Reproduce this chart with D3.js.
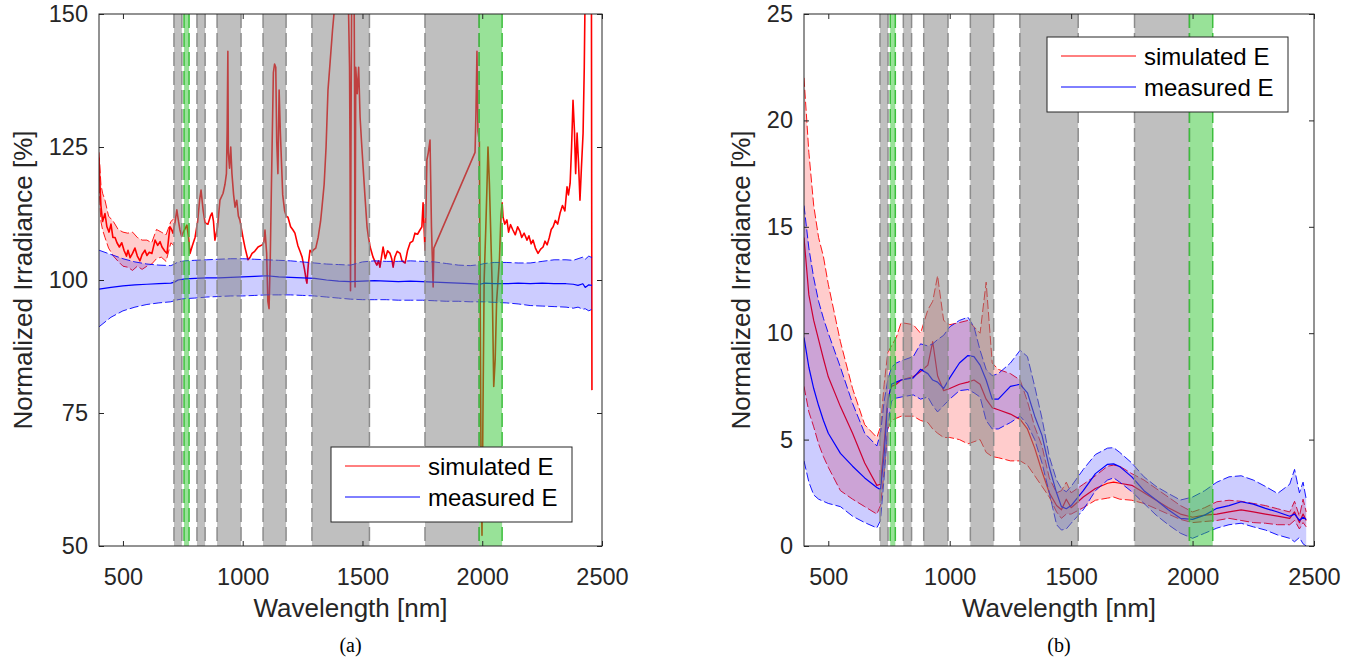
<!DOCTYPE html>
<html>
<head>
<meta charset="utf-8">
<script src="https://cdn.jsdelivr.net/npm/d3@7"></script>
<style>
  body { margin: 0; background: #fff; }
  svg { display: block; font-family: "Liberation Sans", Arial, Helvetica, sans-serif; }
</style>
</head>
<body>
<svg id="chart" width="1354" height="661"></svg>
<script>
// ---- shared ----
const xTicks = [500, 1000, 1500, 2000, 2500];
const yTicksA = [50, 75, 100, 125, 150];
const yTicksB = [0, 5, 10, 15, 20, 25];
const greyBands = [[713, 746], [809, 843], [893, 993], [1085, 1181], [1289, 1529], [1761, 1987]];
const greenBands = [[755, 776], [1987, 2083]];
const legendLabels = ["simulated E", "measured E"];

// ---- panel (a): simulated E ----
const simAWl = [400, 404, 408, 415, 425, 433, 442, 450, 458, 467, 475, 485, 495, 505, 515, 521, 530, 540, 550, 560,
  571, 580, 592, 600, 610, 621, 634, 645, 655, 663, 675, 684, 696, 702, 709, 718, 725, 732, 738, 745,
  750, 758, 767, 774, 780, 790, 801, 812, 820, 826, 835, 843, 855, 865, 872, 878, 884, 895, 905, 918,
  926, 932, 935, 938, 940, 945, 950, 955, 962, 968, 975, 982, 988, 995, 1001, 1010, 1022, 1030, 1039, 1050,
  1064, 1081, 1088, 1093, 1100, 1105, 1110, 1115, 1120, 1128, 1133, 1138, 1142, 1147, 1152, 1157, 1162, 1167, 1175, 1182,
  1189, 1200, 1210, 1218, 1230, 1240, 1248, 1258, 1265, 1268, 1274, 1281, 1288, 1294, 1305, 1315, 1325, 1331, 1340, 1348,
  1356, 1365, 1375, 1385, 1400, 1420, 1435, 1442, 1446, 1448, 1450, 1452, 1455, 1460, 1465, 1467, 1469, 1472, 1478, 1484,
  1490, 1496, 1503, 1510, 1519, 1525, 1532, 1544, 1552, 1560, 1567, 1573, 1580, 1586, 1595, 1605, 1615, 1622, 1628, 1635,
  1645, 1657, 1665, 1678, 1688, 1699, 1710, 1719, 1730, 1740, 1748, 1753, 1757, 1761, 1765, 1769, 1775, 1782, 1788, 1795,
  1798, 1970, 1974, 1978, 1982, 1988, 1991, 1995, 1999, 2003, 2008, 2015, 2020, 2024, 2030, 2036, 2042, 2048, 2054, 2060,
  2066, 2072, 2078, 2083, 2087, 2094, 2103, 2110, 2118, 2128, 2138, 2148, 2157, 2165, 2175, 2187, 2195, 2204, 2212, 2222,
  2233, 2244, 2254, 2262, 2271, 2280, 2288, 2296, 2305, 2315, 2325, 2335, 2345, 2354, 2360, 2367, 2373, 2379, 2385, 2390,
  2396, 2402, 2408, 2414, 2421, 2426, 2429, 2437, 2445, 2452, 2456, 2458];
const simAMean = [123, 118, 114, 111, 112.5, 110, 109, 110.5, 108, 108, 107, 106.2, 107, 105.5, 104.5, 105.6, 104.2, 105, 106, 104.5,
  103.6, 104.8, 105.6, 104.6, 105.2, 105, 107.5, 106.5, 107.2, 106.2, 105.4, 105, 110, 109.6, 108.8, 111, 113.2, 111, 109.4, 108.2,
  108.8, 109.5, 110.3, 108, 105, 106.5, 108, 111, 115, 116.9, 113, 110.7, 110.5, 112, 112.6, 111, 107.5, 110, 115, 116.3,
  118, 120, 128, 143, 124, 121, 125, 120, 116, 113.7, 115, 112, 111.3, 109.5, 108, 106, 103.8, 104.2, 105, 105.4,
  106.2, 106.6, 107, 109.4, 105, 96, 94.6, 104, 118, 139, 140.6, 140, 126, 120, 135.7, 128, 122, 116, 113, 112,
  111.8, 110, 109.4, 108.8, 106.5, 105.3, 104.3, 102, 100, 99.4, 103, 105.6, 105.2, 105.6, 106, 108, 111, 113.7, 118, 125,
  135.7, 141, 147, 152, 160, 170, 165, 150, 140, 124.8, 98, 126, 155, 160, 155, 135, 98.7, 140, 135, 140,
  130.6, 126, 121, 116, 110, 108, 106.2, 104.3, 103.5, 102.8, 103.6, 102.4, 104.5, 106.2, 104, 105.5, 105, 104, 102.4, 104.3,
  105.4, 105, 103.6, 103.2, 105.5, 107, 107.3, 108.8, 108.6, 109.4, 110, 114.5, 110, 105.6, 113, 122.6, 124, 126.3, 110, 98.7,
  106, 124, 132, 143, 128, 126, 100, 65, 52, 75, 100, 110, 118, 125, 118, 108, 98, 80, 85, 96,
  100, 104, 112, 114.5, 111.8, 110.5, 111.3, 109, 110.4, 109.4, 108.5, 110, 109.2, 108, 108.8, 107.5, 108.3, 106.8, 107.5, 106,
  105, 105.8, 106.2, 107.3, 106.6, 108, 109.5, 110, 111.2, 110.5, 112.6, 114, 113, 117.5, 116, 118.2, 125, 133.8, 128, 120,
  127.6, 122, 115, 121, 127.6, 140, 152, 160, 165, 158, 150, 79.3];
const simABandWl = [400, 408, 415, 425, 440, 460, 480, 500, 520, 540, 560, 580, 600, 620, 640, 660, 680, 700, 712];
const simAUpper = [124, 118, 116.3, 115, 112, 111, 109.5, 109, 108.8, 109, 108, 107.5, 107.5, 107, 109.5, 109, 108.5, 111, 111.5];
const simALower = [118, 111, 109.4, 108, 106, 104.5, 103.5, 102.6, 102.4, 101.8, 102.6, 102, 102.6, 103, 104, 104.3, 103.5, 107, 106.5];

// ---- panel (a): measured E ----
const measAWl = [400, 450, 500, 550, 600, 650, 700, 715, 730, 760, 800, 850, 900, 950, 1000, 1050, 1100, 1150, 1200, 1250,
  1300, 1350, 1400, 1450, 1500, 1550, 1600, 1650, 1700, 1750, 1800, 1850, 1900, 1950, 1990, 2010, 2050, 2100, 2150, 2200,
  2250, 2300, 2350, 2380, 2400, 2420, 2430, 2445, 2458];
const measAMean = [98.3, 98.6, 98.9, 99.1, 99.2, 99.3, 99.4, 99.6, 100.0, 100.2, 100.3, 100.4, 100.4, 100.5, 100.6, 100.7, 100.8, 100.6, 100.5, 100.4,
  100.3, 100.0, 99.8, 99.7, 99.8, 99.9, 99.8, 99.7, 99.8, 99.7, 99.6, 99.5, 99.4, 99.3, 99.2, 99.4, 99.3, 99.3, 99.4, 99.3,
  99.4, 99.3, 99.3, 99.2, 99.0, 99.3, 98.6, 99.1, 99.0];
const measAUpper = [105.6, 104.8, 104.0, 103.4, 103.0, 102.8, 102.7, 103.0, 103.4, 103.6, 103.7, 103.8, 103.9, 104.0, 104.0, 103.9, 103.8, 103.7, 103.6, 103.4,
  103.2, 103.0, 102.9, 102.8, 103.4, 103.6, 103.5, 103.5, 103.6, 103.5, 103.4, 103.1, 102.8, 102.7, 102.9, 103.1, 103.3, 103.3, 103.2, 103.2,
  103.5, 103.8, 103.8, 103.7, 104.0, 104.3, 103.9, 104.5, 104.2];
const measALower = [91.2, 93.0, 94.2, 94.9, 95.4, 95.7, 95.9, 96.1, 96.3, 96.5, 96.6, 96.8, 96.9, 97.0, 97.0, 97.1, 97.2, 97.2, 97.2, 97.1,
  97.0, 96.8, 96.6, 96.4, 96.3, 96.3, 96.3, 96.2, 96.2, 96.2, 96.1, 96.0, 96.0, 95.9, 95.9, 95.9, 95.8, 95.7, 95.5, 95.2,
  95.1, 95.0, 94.9, 94.7, 94.9, 94.5, 94.6, 94.2, 94.5];

// ---- panel (b) ----
const wlB = [400, 420, 440, 460, 480, 500, 550, 600, 650, 700, 715, 730, 745, 760, 780, 800, 850, 880, 910, 930,
  950, 975, 1000, 1040, 1075, 1100, 1125, 1150, 1175, 1200, 1250, 1290, 1320, 1350, 1380, 1410, 1440, 1460, 1480, 1500,
  1550, 1600, 1650, 1675, 1700, 1750, 1800, 1850, 1900, 1950, 2000, 2050, 2100, 2150, 2200, 2250, 2300, 2350, 2400, 2420,
  2440, 2455, 2468];
const simBMean = [14.5, 11.8, 10.6, 9.7, 8.8, 7.95, 6.55, 5.3, 3.9, 2.85, 2.9, 4.8, 6.9, 7.5, 7.6, 7.8, 7.95, 8.2, 8.5, 9.6,
  8.0, 7.3, 7.4, 7.6, 7.7, 7.8, 7.6, 6.9, 6.5, 6.4, 6.2, 5.95, 5.5, 4.6, 3.5, 2.5, 1.9, 1.7, 2.2, 1.8,
  2.3, 2.7, 2.95, 3.0, 2.95, 2.85, 2.5, 2.15, 1.8, 1.5, 1.35, 1.45, 1.5, 1.6, 1.7, 1.6, 1.5, 1.4, 1.3, 1.6,
  1.1, 1.5, 1.2];
const simBUpper = [22.0, 18.5, 16.0, 14.5, 13.6, 12.3, 9.6, 7.4, 5.7, 5.1, 5.6, 7.6, 9.1, 9.4, 9.8, 10.5, 10.4, 10.0, 11.1, 11.5,
  12.7, 10.6, 10.4, 10.5, 10.6, 10.3, 10.0, 12.4, 8.6, 8.3, 8.1, 7.8, 6.8, 5.6, 4.7, 3.2, 2.5, 2.6, 3.0, 2.5,
  2.9, 3.3, 3.75, 3.8, 3.75, 3.4, 3.1, 2.7, 2.3, 1.9, 1.6, 1.8, 2.08, 2.15, 2.1, 2.0, 1.9, 1.75, 1.6, 2.1,
  1.4, 2.2, 1.6];
const simBLower = [7.5, 6.3, 5.6, 4.8, 4.2, 3.7, 2.6, 2.2, 1.85, 1.5, 1.9, 3.5, 5.5, 5.9, 6.0, 6.1, 6.1, 5.9, 5.8, 5.5,
  5.3, 5.1, 5.1, 5.0, 4.8, 4.9, 5.0, 4.4, 4.2, 4.15, 4.0, 4.0, 3.8, 3.3, 2.8, 2.3, 1.6, 1.3, 1.5, 1.5,
  1.8, 2.15, 2.25, 2.3, 2.2, 2.15, 2.0, 1.75, 1.5, 1.25, 1.1, 1.15, 1.2, 1.3, 1.2, 1.1, 1.07, 1.0, 1.0, 1.2,
  0.8, 1.1, 0.9];
const measBMean = [9.8, 8.4, 7.4, 6.6, 5.9, 5.3, 4.35, 3.75, 3.2, 2.75, 2.65, 4.3, 6.8, 7.6, 7.7, 7.8, 7.9, 8.3, 8.1, 7.8,
  7.7, 7.4, 7.9, 8.6, 8.95, 8.9, 8.5, 7.8, 6.9, 6.9, 7.5, 7.6, 7.2, 6.1, 5.2, 3.7, 2.5, 1.85, 1.75, 1.9,
  2.6, 3.4, 3.84, 3.86, 3.73, 3.25, 2.6, 2.16, 1.7, 1.3, 1.25, 1.45, 1.77, 1.9, 2.08, 1.97, 1.77, 1.6, 1.4, 1.5,
  1.2, 1.35, 1.25];
const measBUpper = [16.0, 14.0, 12.6, 11.5, 10.7, 10.0, 8.4, 6.7, 5.3, 4.7, 5.3, 6.8, 7.8, 8.4, 8.6, 8.7, 8.9, 9.5, 9.4, 9.5,
  9.7, 9.9, 10.3, 10.6, 10.75, 10.3, 9.2, 8.3, 8.0, 8.1, 8.6, 9.2, 8.9, 7.5, 6.0, 4.2, 3.1, 2.7, 2.55, 2.8,
  3.6, 4.3, 4.6, 4.62, 4.4, 3.9, 3.25, 2.8, 2.47, 2.16, 2.3, 2.6, 3.0, 3.25, 3.3, 3.1, 2.8, 2.47, 2.9, 3.6,
  2.5, 3.0, 2.2];
const measBLower = [4.0, 3.0, 2.4, 2.2, 2.1, 2.0, 1.85, 1.4, 1.1, 0.85, 1.2, 3.2, 5.6, 6.8, 6.95, 7.0, 7.1, 6.9, 7.0, 6.6,
  6.3, 6.6, 6.9, 7.3, 7.35, 7.2, 7.0, 5.9, 5.5, 5.5, 5.8, 6.1, 5.7, 5.0, 3.9, 2.5, 1.0, 0.75, 0.8, 1.07,
  1.7, 2.6, 3.1, 3.2, 3.0, 2.55, 2.0, 1.45, 1.0, 0.6, 0.36, 0.6, 0.84, 1.0, 1.07, 0.9, 0.75, 0.52, 0.36, 0.2,
  0.4, 0.1, 0.0];

const svg = d3.select("#chart");
const ink = "#262626";
const plotTop = 14, plotBottom = 546;

function zip(wl, a, b) {
  return wl.map((w, i) => b ? [w, a[i], b[i]] : [w, a[i]]);
}

function drawPanel(cfg) {
  const x = d3.scaleLinear().domain([400, 2500]).range([cfg.left, cfg.right]);
  const y = d3.scaleLinear().domain(cfg.yDomain).range([plotBottom, plotTop]);
  const g = svg.append("g");

  g.append("clipPath").attr("id", "clip-" + cfg.name)
    .append("rect")
    .attr("x", cfg.left).attr("y", plotTop)
    .attr("width", cfg.right - cfg.left).attr("height", plotBottom - plotTop);

  const plot = g.append("g").attr("clip-path", `url(#clip-${cfg.name})`);
  const line = d3.line().x(d => x(d[0])).y(d => y(d[1]));
  const area = d3.area().x(d => x(d[0])).y0(d => y(d[1])).y1(d => y(d[2]));

  cfg.series.forEach(s => {
    const bandWl = s.bandWl || s.wl;
    plot.append("path")
      .datum(zip(bandWl, s.lower, s.upper))
      .attr("d", area)
      .attr("fill", s.color)
      .attr("fill-opacity", 0.2);
    [s.lower, s.upper].forEach(v => {
      plot.append("path")
        .datum(zip(bandWl, v))
        .attr("d", line)
        .attr("fill", "none")
        .attr("stroke", s.color)
        .attr("stroke-width", 0.9)
        .attr("stroke-dasharray", "9,3");
    });
    plot.append("path")
      .datum(zip(s.wl, s.mean))
      .attr("d", line)
      .attr("fill", "none")
      .attr("stroke", s.color)
      .attr("stroke-width", s.width || 1.2)
      .attr("stroke-linejoin", "round");
  });

  // absorption bands drawn on top, semi transparent
  const bands = [
    ...greyBands.map(b => ({ b, fill: "#808080", edge: "#8c8c8c" })),
    ...greenBands.map(b => ({ b, fill: "#32c532", edge: "#3cbf3c" }))
  ];
  bands.forEach(d => {
    plot.append("rect")
      .attr("x", x(d.b[0])).attr("y", plotTop)
      .attr("width", x(d.b[1]) - x(d.b[0])).attr("height", plotBottom - plotTop)
      .attr("fill", d.fill).attr("fill-opacity", 0.5);
  });
  bands.forEach(d => {
    d.b.forEach(w => {
      plot.append("line")
        .attr("x1", x(w)).attr("x2", x(w))
        .attr("y1", plotTop).attr("y2", plotBottom)
        .attr("stroke", d.edge).attr("stroke-width", 1.5)
        .attr("stroke-dasharray", "14,5");
    });
  });

  // axes, ticks pointing inward on all four sides
  const styleAxis = sel => {
    sel.select(".domain").remove();
    sel.selectAll(".tick line").attr("stroke", ink);
    sel.selectAll("text").attr("fill", ink).attr("font-size", 23.5)
      .attr("font-family", "'Liberation Sans', Arial, sans-serif");
  };
  const fmt = d3.format("d");
  g.append("g").attr("transform", `translate(0,${plotBottom})`)
    .call(d3.axisBottom(x).tickValues(xTicks).tickFormat(fmt).tickSize(-5).tickPadding(22))
    .call(styleAxis);
  g.append("g").attr("transform", `translate(0,${plotTop})`)
    .call(d3.axisTop(x).tickValues(xTicks).tickSize(-5).tickFormat(""))
    .call(styleAxis);
  g.append("g").attr("transform", `translate(${cfg.left},0)`)
    .call(d3.axisLeft(y).tickValues(cfg.yTicks).tickFormat(fmt).tickSize(-5).tickPadding(11))
    .call(styleAxis);
  g.append("g").attr("transform", `translate(${cfg.right},0)`)
    .call(d3.axisRight(y).tickValues(cfg.yTicks).tickSize(-5).tickFormat(""))
    .call(styleAxis);

  g.append("rect")
    .attr("x", cfg.left).attr("y", plotTop)
    .attr("width", cfg.right - cfg.left).attr("height", plotBottom - plotTop)
    .attr("fill", "none").attr("stroke", ink).attr("stroke-width", 1);

  const mid = (cfg.left + cfg.right) / 2;
  g.append("text")
    .attr("x", mid).attr("y", 617)
    .attr("text-anchor", "middle").attr("font-size", 26).attr("fill", ink)
    .text("Wavelength [nm]");
  g.append("text")
    .attr("transform", `translate(${cfg.left - cfg.yLabelGap},${(plotTop + plotBottom) / 2}) rotate(-90)`)
    .attr("text-anchor", "middle").attr("font-size", 26).attr("fill", ink)
    .text("Normalized Irradiance [%]");
  g.append("text")
    .attr("x", mid).attr("y", 652)
    .attr("text-anchor", "middle").attr("font-size", 20)
    .attr("font-family", "'Liberation Serif', 'Times New Roman', serif")
    .attr("fill", "#000")
    .text(cfg.caption);

  // legend
  const lg = g.append("g").attr("transform", `translate(${cfg.legend[0]},${cfg.legend[1]})`);
  lg.append("rect").attr("width", 241).attr("height", 75)
    .attr("fill", "#fff").attr("stroke", ink).attr("stroke-width", 1);
  const legendColors = [cfg.series[0].color, cfg.series[1].color];
  legendLabels.forEach((t, i) => {
    const ly = 19 + i * 31;
    lg.append("line").attr("x1", 14).attr("x2", 89).attr("y1", ly).attr("y2", ly)
      .attr("stroke", legendColors[i]).attr("stroke-width", 1);
    lg.append("text").attr("x", 97).attr("y", ly + 8.5)
      .attr("font-size", 24).attr("fill", "#000").text(t);
  });
}

drawPanel({
  name: "a", left: 99, right: 602, yDomain: [50, 150], yTicks: yTicksA, caption: "(a)",
  legend: [331, 447], yLabelGap: 67,
  series: [
    { color: "#ff0000", wl: simAWl, mean: simAMean, bandWl: simABandWl, upper: simAUpper, lower: simALower, width: 1.6 },
    { color: "#0000ff", wl: measAWl, mean: measAMean, upper: measAUpper, lower: measALower }
  ]
});

drawPanel({
  name: "b", left: 804, right: 1314, yDomain: [0, 25], yTicks: yTicksB, caption: "(b)",
  legend: [1047, 37], yLabelGap: 54,
  series: [
    { color: "#ff0000", wl: wlB, mean: simBMean, upper: simBUpper, lower: simBLower },
    { color: "#0000ff", wl: wlB, mean: measBMean, upper: measBUpper, lower: measBLower }
  ]
});
</script>
</body>
</html>
